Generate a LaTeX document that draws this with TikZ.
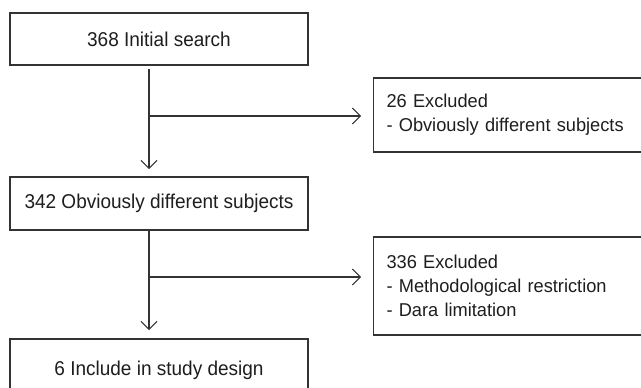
\documentclass[tikz,border=0pt]{standalone}
\usepackage{fontspec}
\setmainfont{Liberation Sans}
\newfontfamily\boxfont[FakeStretch=0.95]{Liberation Sans}
\newfontfamily\sidefont[FakeStretch=0.98]{Liberation Sans}
\usetikzlibrary{arrows.meta}
\definecolor{linegray}{HTML}{333333}
\definecolor{textgray}{HTML}{1E1E1E}
\begin{document}
\begin{tikzpicture}[x=1pt,y=-1pt,
  box/.style={draw=linegray,line width=1.1pt,rectangle,minimum width=298pt,
    text=textgray,font=\boxfont\fontsize{20}{24}\selectfont,inner sep=0pt},
  sidebox/.style={draw=linegray,line width=1.1pt,rectangle,minimum width=272pt,
    text width=259pt,align=left,inner xsep=13pt,inner ysep=0pt,anchor=west,
    text=textgray,font=\sidefont\fontsize{18.6}{24}\selectfont},
  flow/.style={draw=linegray,line width=1.1pt,-{Straight Barb[length=8pt,width=16pt,line width=1pt]}}]
\useasboundingbox (0,0) rectangle (641,388);
\clip (0,0) rectangle (641,388);
\fill[white] (0,0) rectangle (641,388);
\node[box,minimum height=52pt] (b1) at (159,39) {368 Initial search};
\node[box,minimum height=53pt] (b2) at (159,203.5) {342 Obviously different subjects};
\node[box,minimum height=63pt] (b3) at (159,370.5) {6 Include in study design};
\node[sidebox,minimum height=74pt] (e1) at (373,115) {26 Excluded\\- Obviously different subjects};
\node[sidebox,minimum height=98pt] (e2) at (373,286) {336 Excluded\\- Methodological restriction\\- Dara limitation};
% connector ends
\coordinate (s1) at (149,69);
\coordinate (t1) at (149,169);
\coordinate (j1) at (149,116);
\coordinate (h1) at (361,116);
\coordinate (s2) at (149,230);
\coordinate (t2) at (149,330);
\coordinate (j2) at (149,277);
\coordinate (h2) at (361,277);
\draw[flow] (s1) -- (t1);
\draw[flow] (j1) -- (h1);
\draw[flow] (s2) -- (t2);
\draw[flow] (j2) -- (h2);
\end{tikzpicture}
\end{document}
